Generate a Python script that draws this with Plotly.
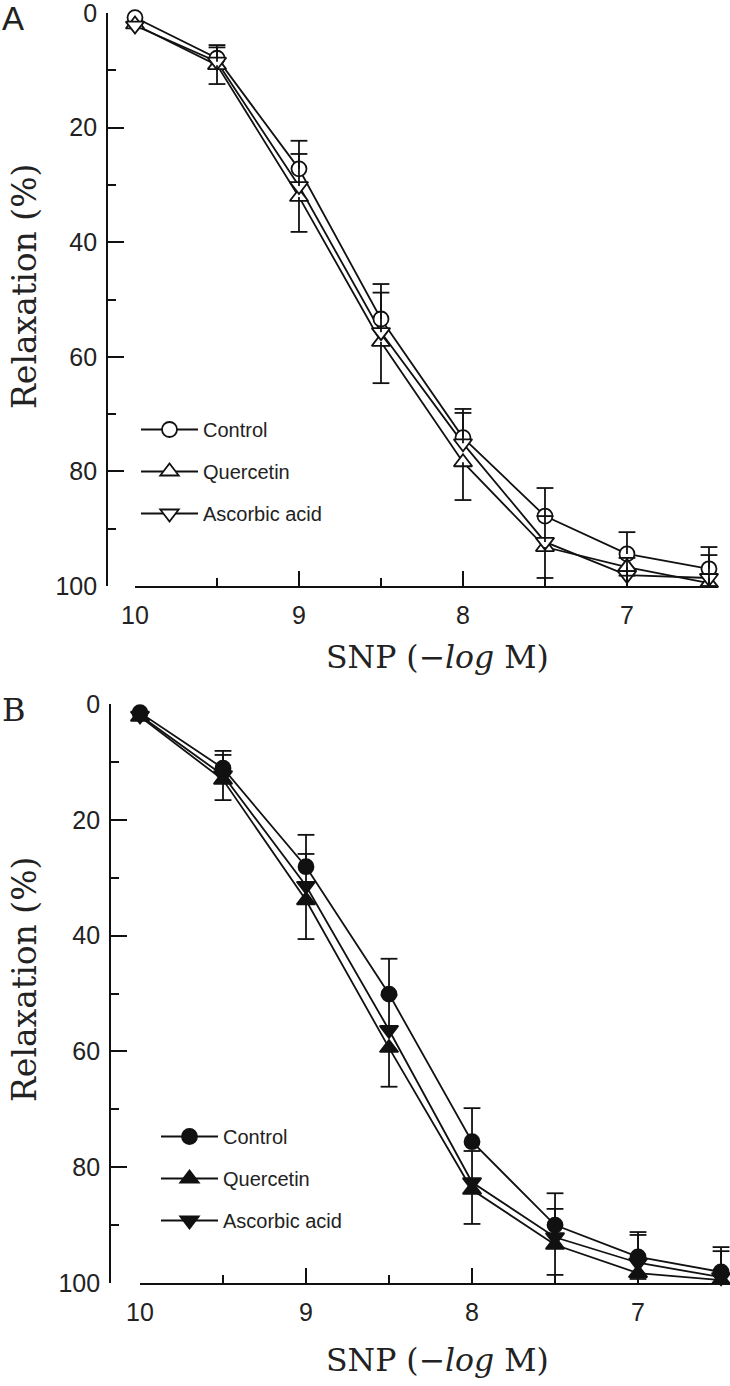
import plotly.graph_objects as go

# ---------------- data ----------------
conc = [10, 9.5, 9, 8.5, 8, 7.5, 7, 6.5]          # SNP (-log M)
series_names = ["Control", "Quercetin", "Ascorbic acid"]

# Panel A
ctrl_A = [0.8, 7.9, 27.2, 53.4, 74.1, 87.8, 94.4, 97.0]
ctrl_A_err = [0, 2.3, 4.9, 6.1, 5.0, 4.9, 3.8, 3.8]
quer_A = [2.0, 9.1, 32.1, 57.4, 78.4, 93.2, 96.7, 99.5]
quer_A_err = [0, 3.3, 6.1, 7.2, 6.6, 5.4, 1.5, 0.5]
asc_A = [2.2, 8.5, 30.2, 55.7, 75.1, 92.3, 98.1, 98.6]
asc_A_err = [0, 2.5, 5.6, 6.9, 5.3, 4.5, 3.0, 4.0]

# Panel B
ctrl_B = [1.5, 11.1, 28.1, 50.1, 75.6, 90.0, 95.5, 98.1]
ctrl_B_err = [0, 3.0, 5.5, 6.1, 5.8, 5.5, 4.3, 4.3]
quer_B = [2.2, 13.1, 33.9, 59.4, 83.9, 93.4, 98.3, 99.5]
quer_B_err = [0, 3.5, 6.7, 6.7, 5.9, 5.2, 1.0, 0.5]
asc_B = [2.0, 12.3, 31.4, 56.3, 82.6, 92.1, 96.5, 99.0]
asc_B_err = [0, 3.5, 5.5, 6.0, 5.4, 4.9, 4.8, 4.5]

y_ticks = [0, 20, 40, 60, 80, 100]
x_ticks = [10, 9, 8, 7]

# ---------------- style ----------------
INK = "#111111"
LW = 1.8
SANS = "Liberation Sans, Arial, sans-serif"
SERIF = "DejaVu Serif, serif"

W, H = 730, 1386

fig = go.Figure()

def add_panel(xa, ya, legend_id, vals, errs, dirs, symbols, fill):
    # connecting lines (bottom layer)
    for v in vals:
        fig.add_trace(go.Scatter(x=conc, y=v, mode="lines", xaxis=xa, yaxis=ya,
                                 line=dict(color=INK, width=LW), showlegend=False,
                                 hoverinfo="skip", cliponaxis=False))
    # markers
    for v, sym in zip(vals, symbols):
        fig.add_trace(go.Scatter(x=conc, y=v, mode="markers", xaxis=xa, yaxis=ya,
                                 marker=dict(symbol=sym, size=15 if "circle" in sym else 16,
                                             color=fill, line=dict(color=INK, width=LW)),
                                 showlegend=False, cliponaxis=False))
    # one-sided error bars (stems + caps)
    for v, e, d in zip(vals, errs, dirs):
        sx, sy, cx, cy = [], [], [], []
        for xi, vi, ei in zip(conc, v, e):
            if ei <= 0:
                continue
            end = vi - ei if d == "up" else vi + ei
            sx += [xi, xi, None]
            sy += [vi, end, None]
            cx.append(xi)
            cy.append(end)
        fig.add_trace(go.Scatter(x=sx, y=sy, mode="lines", xaxis=xa, yaxis=ya,
                                 line=dict(color=INK, width=LW), showlegend=False,
                                 hoverinfo="skip", cliponaxis=False))
        fig.add_trace(go.Scatter(x=cx, y=cy, mode="markers", xaxis=xa, yaxis=ya,
                                 marker=dict(symbol="line-ew", size=12,
                                             line=dict(color=INK, width=LW)),
                                 showlegend=False, hoverinfo="skip", cliponaxis=False))
    # legend entries
    for name, sym in zip(series_names, symbols):
        fig.add_trace(go.Scatter(x=[None], y=[None], mode="lines+markers", name=name,
                                 xaxis=xa, yaxis=ya, legend=legend_id, legendgroup=legend_id + name,
                                 line=dict(color=INK, width=LW),
                                 marker=dict(symbol=sym, size=15 if "circle" in sym else 16,
                                             color=fill, line=dict(color=INK, width=LW))))

dirs = ["up", "down", "up"]
add_panel("x", "y", "legend", [ctrl_A, quer_A, asc_A], [ctrl_A_err, quer_A_err, asc_A_err],
          dirs, ["circle", "triangle-up", "triangle-down"], "white")
add_panel("x2", "y2", "legend2", [ctrl_B, quer_B, asc_B], [ctrl_B_err, quer_B_err, asc_B_err],
          dirs, ["circle", "triangle-up", "triangle-down"], INK)

# pixel -> paper fraction helpers
def px(v):
    return min(max(v / W, 0.0), 1.0)

def py(v):
    return min(max(1 - v / H, 0.0), 1.0)

yaxis_common = dict(range=[100, 0], tickvals=y_ticks, showline=True, linecolor=INK, linewidth=LW,
                    ticks="inside", ticklen=16, tickwidth=LW, tickcolor=INK,
                    minor=dict(dtick=10, tick0=0, ticks="inside", ticklen=8, tickwidth=LW, tickcolor=INK),
                    showgrid=False, zeroline=False, anchor="free", automargin=False,
                    ticklabeloverflow="allow",
                    tickfont=dict(family=SANS, size=25, color="#222"), ticklabelstandoff=4)
xaxis_common = dict(tickvals=x_ticks, showline=True, linecolor=INK, linewidth=LW,
                    ticks="inside", ticklen=15, tickwidth=LW, tickcolor=INK,
                    minor=dict(dtick=0.5, tick0=10, ticks="inside", ticklen=8, tickwidth=LW, tickcolor=INK),
                    showgrid=False, zeroline=False, automargin=False,
                    ticklabeloverflow="allow",
                    tickfont=dict(family=SANS, size=25, color="#222"), ticklabelstandoff=6)

fig.update_layout(
    width=W, height=H, margin=dict(l=0, r=0, t=0, b=0, pad=0, autoexpand=False),
    paper_bgcolor="white", plot_bgcolor="white",
    xaxis=dict(domain=[px(135), px(718)], range=[10, 6.445], anchor="y", **xaxis_common),
    yaxis=dict(domain=[py(586), py(13)], position=px(107), **yaxis_common),
    xaxis2=dict(domain=[px(140), 1.0], range=[10, 6.446], anchor="y2", **xaxis_common),
    yaxis2=dict(domain=[py(1283), py(704)], position=px(110), **yaxis_common),
    legend=dict(x=px(136), y=py(410), xanchor="left", yanchor="top", bgcolor="rgba(0,0,0,0)",
                font=dict(family=SANS, size=20, color="#222"), tracegroupgap=13, itemwidth=57),
    legend2=dict(x=px(156), y=py(1117), xanchor="left", yanchor="top", bgcolor="rgba(0,0,0,0)",
                 font=dict(family=SANS, size=20, color="#222"), tracegroupgap=13, itemwidth=57),
    showlegend=True,
)

ann = []
title_font = dict(family=SERIF, size=33, color="#222")
for yc in (287, 980):
    ann.append(dict(text="Relaxation (%)", x=px(24), y=py(yc), xref="paper", yref="paper",
                    textangle=-90, showarrow=False, font=title_font, xanchor="center", yanchor="middle"))
for yc in (657, 1360):
    ann.append(dict(text="SNP (\u2212<i>log</i> M)", x=px(437), y=py(yc), xref="paper", yref="paper",
                    showarrow=False, font=dict(family=SERIF, size=31.5, color="#222"),
                    xanchor="center", yanchor="middle"))
ann.append(dict(text="A", x=0, y=py(19), xref="paper", yref="paper", showarrow=False,
                font=dict(family=SANS, size=33, color="#222"), xanchor="left", yanchor="middle"))
ann.append(dict(text="B", x=0, y=py(710), xref="paper", yref="paper", showarrow=False,
                font=dict(family=SERIF, size=32, color="#222"), xanchor="left", yanchor="middle"))
fig.update_layout(annotations=ann)

fig.write_html("out.html", config={"displayModeBar": False},
               post_script="document.body.style.margin='0';document.body.style.padding='0';"
                           "document.body.style.overflow='hidden';")
